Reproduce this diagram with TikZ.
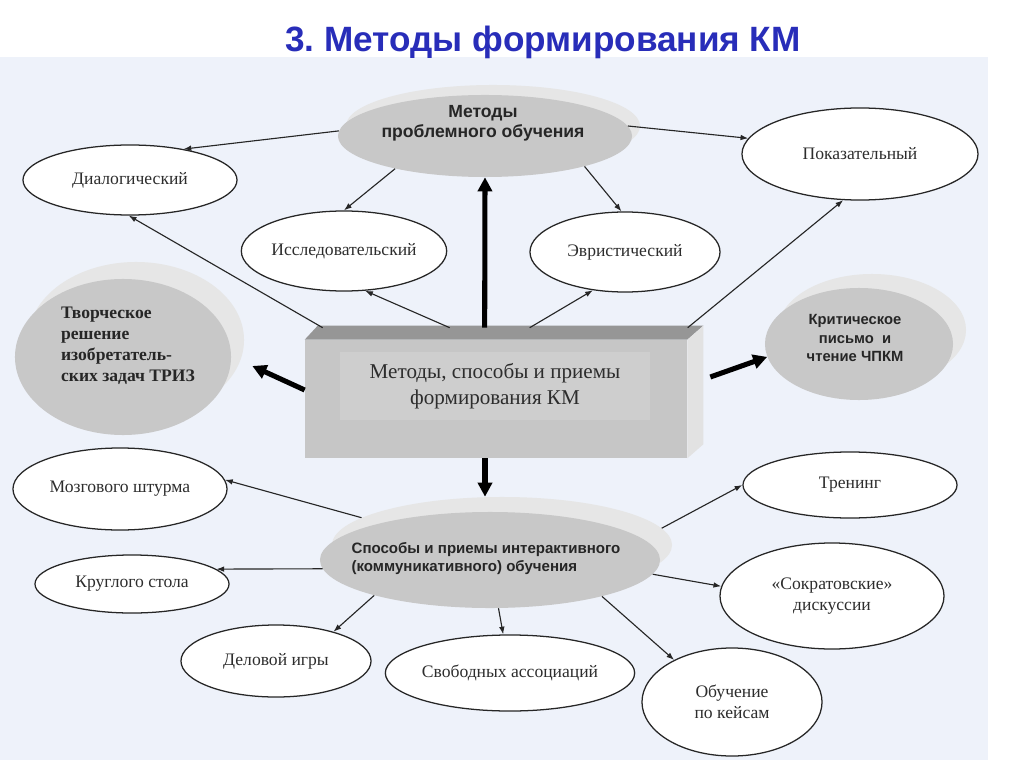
\documentclass[tikz,border=0pt]{standalone}
\usepackage{fontspec}
\setmainfont{Liberation Serif}
\newfontfamily\headfont{Liberation Sans}
\usetikzlibrary{shapes.geometric,calc}
\usetikzlibrary{arrows.meta}
\definecolor{PanelBlue}{RGB}{238,242,250}
\definecolor{TitleBlue}{RGB}{40,45,185}
\definecolor{DiskGray}{RGB}{200,200,200}
\definecolor{RimGray}{RGB}{230,230,230}
\definecolor{BoxFront}{RGB}{198,198,198}
\definecolor{BoxInner}{RGB}{206,206,206}
\definecolor{BoxTop}{RGB}{150,150,150}
\definecolor{BoxSide}{RGB}{226,226,226}
\definecolor{InkGray}{RGB}{45,45,45}
\frenchspacing
\tikzset{
	oval/.style={ellipse,draw=black!85,line width=0.9pt,fill=white,inner sep=0pt,
		align=center,text=InkGray,font=\fontsize{12.5}{15}\selectfont},
	diskrim/.style={ellipse,fill=RimGray,inner sep=0pt},
	disk/.style={ellipse,fill=DiskGray,inner sep=0pt},
	disktxt/.style={align=center,inner sep=0pt,text=black!85,
		font=\headfont\bfseries\fontsize{10.7}{12.8}\selectfont},
	arr/.style={draw=black!85,line width=0.8pt,-{Latex[length=5.5pt,width=4pt]}},
	bigarr/.style={draw=black,line width=3.6pt,-{Triangle[length=10pt,width=10pt]}},
}
\begin{document}
\begin{tikzpicture}[x=0.025cm,y=-0.025cm]
	\useasboundingbox (0,0) rectangle (1024,767);
	\fill[PanelBlue] (0,57) rectangle (988,760);
	\node[text=TitleBlue,font=\headfont\bfseries\fontsize{25}{30}\selectfont] (title) at (543,42) {3. Методы формирования КМ};
	\node[diskrim,minimum width=7.35cm,minimum height=2.05cm] (probR) at (493,126) {};
	\node[disk,minimum width=7.35cm,minimum height=2.05cm] (prob) at (485,136) {};
	\node[disktxt,font=\headfont\bfseries\fontsize{12.5}{14.2}\selectfont] (probT) at (483,123) {Методы\\проблемного обучения};
	\node[diskrim,minimum width=5.4cm,minimum height=3.9cm] (trizR) at (136,340) {};
	\node[disk,minimum width=5.4cm,minimum height=3.9cm] (triz) at (123,357) {};
	\node[disktxt,align=left,font=\bfseries\fontsize{12.5}{15}\selectfont] (trizT) at (128,346) {Творческое\\решение\\изобретатель-\\ских задач ТРИЗ};
	\node[diskrim,minimum width=4.7cm,minimum height=2.8cm] (kritR) at (872,330) {};
	\node[disk,minimum width=4.7cm,minimum height=2.8cm] (krit) at (859,344) {};
	\node[disktxt,font=\headfont\bfseries\fontsize{10.5}{13}\selectfont] (kritT) at (855,338) {Критическое\\письмо\ \ и\\чтение ЧПКМ};
	\node[diskrim,minimum width=8.5cm,minimum height=2.4cm] (sposobR) at (502,545) {};
	\node[disk,minimum width=8.5cm,minimum height=2.4cm] (sposob) at (490,560) {};
	\node[disktxt,align=left] (sposobT) at (486,559) {Способы и приемы интерактивного\\(коммуникативного) обучения};
	\node[rectangle,fill=BoxFront,minimum width=9.55cm,minimum height=2.95cm] (box) at (496,399) {};
	\fill[BoxTop] (box.north west) -- ++(13,-14) -- ($(box.north east)+(16,-14)$) -- (box.north east) -- cycle;
	\fill[BoxSide] (box.north east) -- ++(16,-14) -- ($(box.south east)+(16,-14)$) -- (box.south east) -- cycle;
	\node[rectangle,fill=BoxInner,minimum width=7.75cm,minimum height=1.7cm,align=center,
		text=InkGray,font=\fontsize{15}{18.5}\selectfont] (boxT) at (495,386) {Методы, способы и приемы\\формирования КМ};
	\foreach \n/\x/\y/\w/\h/\t in {
		dial/130/180/5.35/1.75/Диалогический,
		pok/860/154/5.9/2.3/Показательный,
		issl/344/251/4.8/2.0/Исследовательский,
		evr/625/252/4.75/2.0/Эвристический,
		mozg/120/489/5.35/2.05/Мозгового штурма,
		krug/132/584/4.85/1.45/Круглого стола,
		delo/276/661/4.75/1.8/Деловой игры,
		svob/510/673/6.15/1.9/Свободных ассоциаций,
		obuch/732/702/4.5/2.7/Обучение\\по кейсам,
		sokr/832/596/5.6/2.65/«Сократовские»\\дискуссии,
		tren/850/485/5.35/1.65/Тренинг}
	\node[oval,minimum width=\w cm,minimum height=\h cm] (\n) at (\x,\y) {\t};
	\foreach \a/\b in {prob.178/dial.30,prob.4/pok.172,prob.200/issl.north,prob.-17/evr.95,
		sposobR.169/mozg.5,sposob.183/krug.10,sposob.197/delo.27,sposob.-80/svob.100,
		sposob.-18/obuch.144,sposob.-5/sokr.175,sposobR.6/tren.west}
	\draw[arr] (\a) -- (\b);
	\draw[arr] ($(box.north west)+(18,-12)$) -- (dial.-92);
	\draw[arr] ($(box.north west)+(145,-12)$) -- (issl.-62);
	\draw[arr] ($(box.north west)+(225,-12)$) -- (evr.230);
	\draw[arr] ($(box.north west)+(383,-12)$) -- (pok.250);
	\draw[bigarr] ($(box.north west)+(180,-12)$) -- (prob.south);
	\draw[bigarr] ($(box.west)+(0,-9)$) -- ($(triz.east)+(21,9)$);
	\draw[bigarr] ($(box.east)+(23,-22)$) -- (krit.188);
	\draw[bigarr] ($(box.south)+(-11,0)$) -- ($(sposobR.north)+(-17,0)$);
\end{tikzpicture}
\end{document}
